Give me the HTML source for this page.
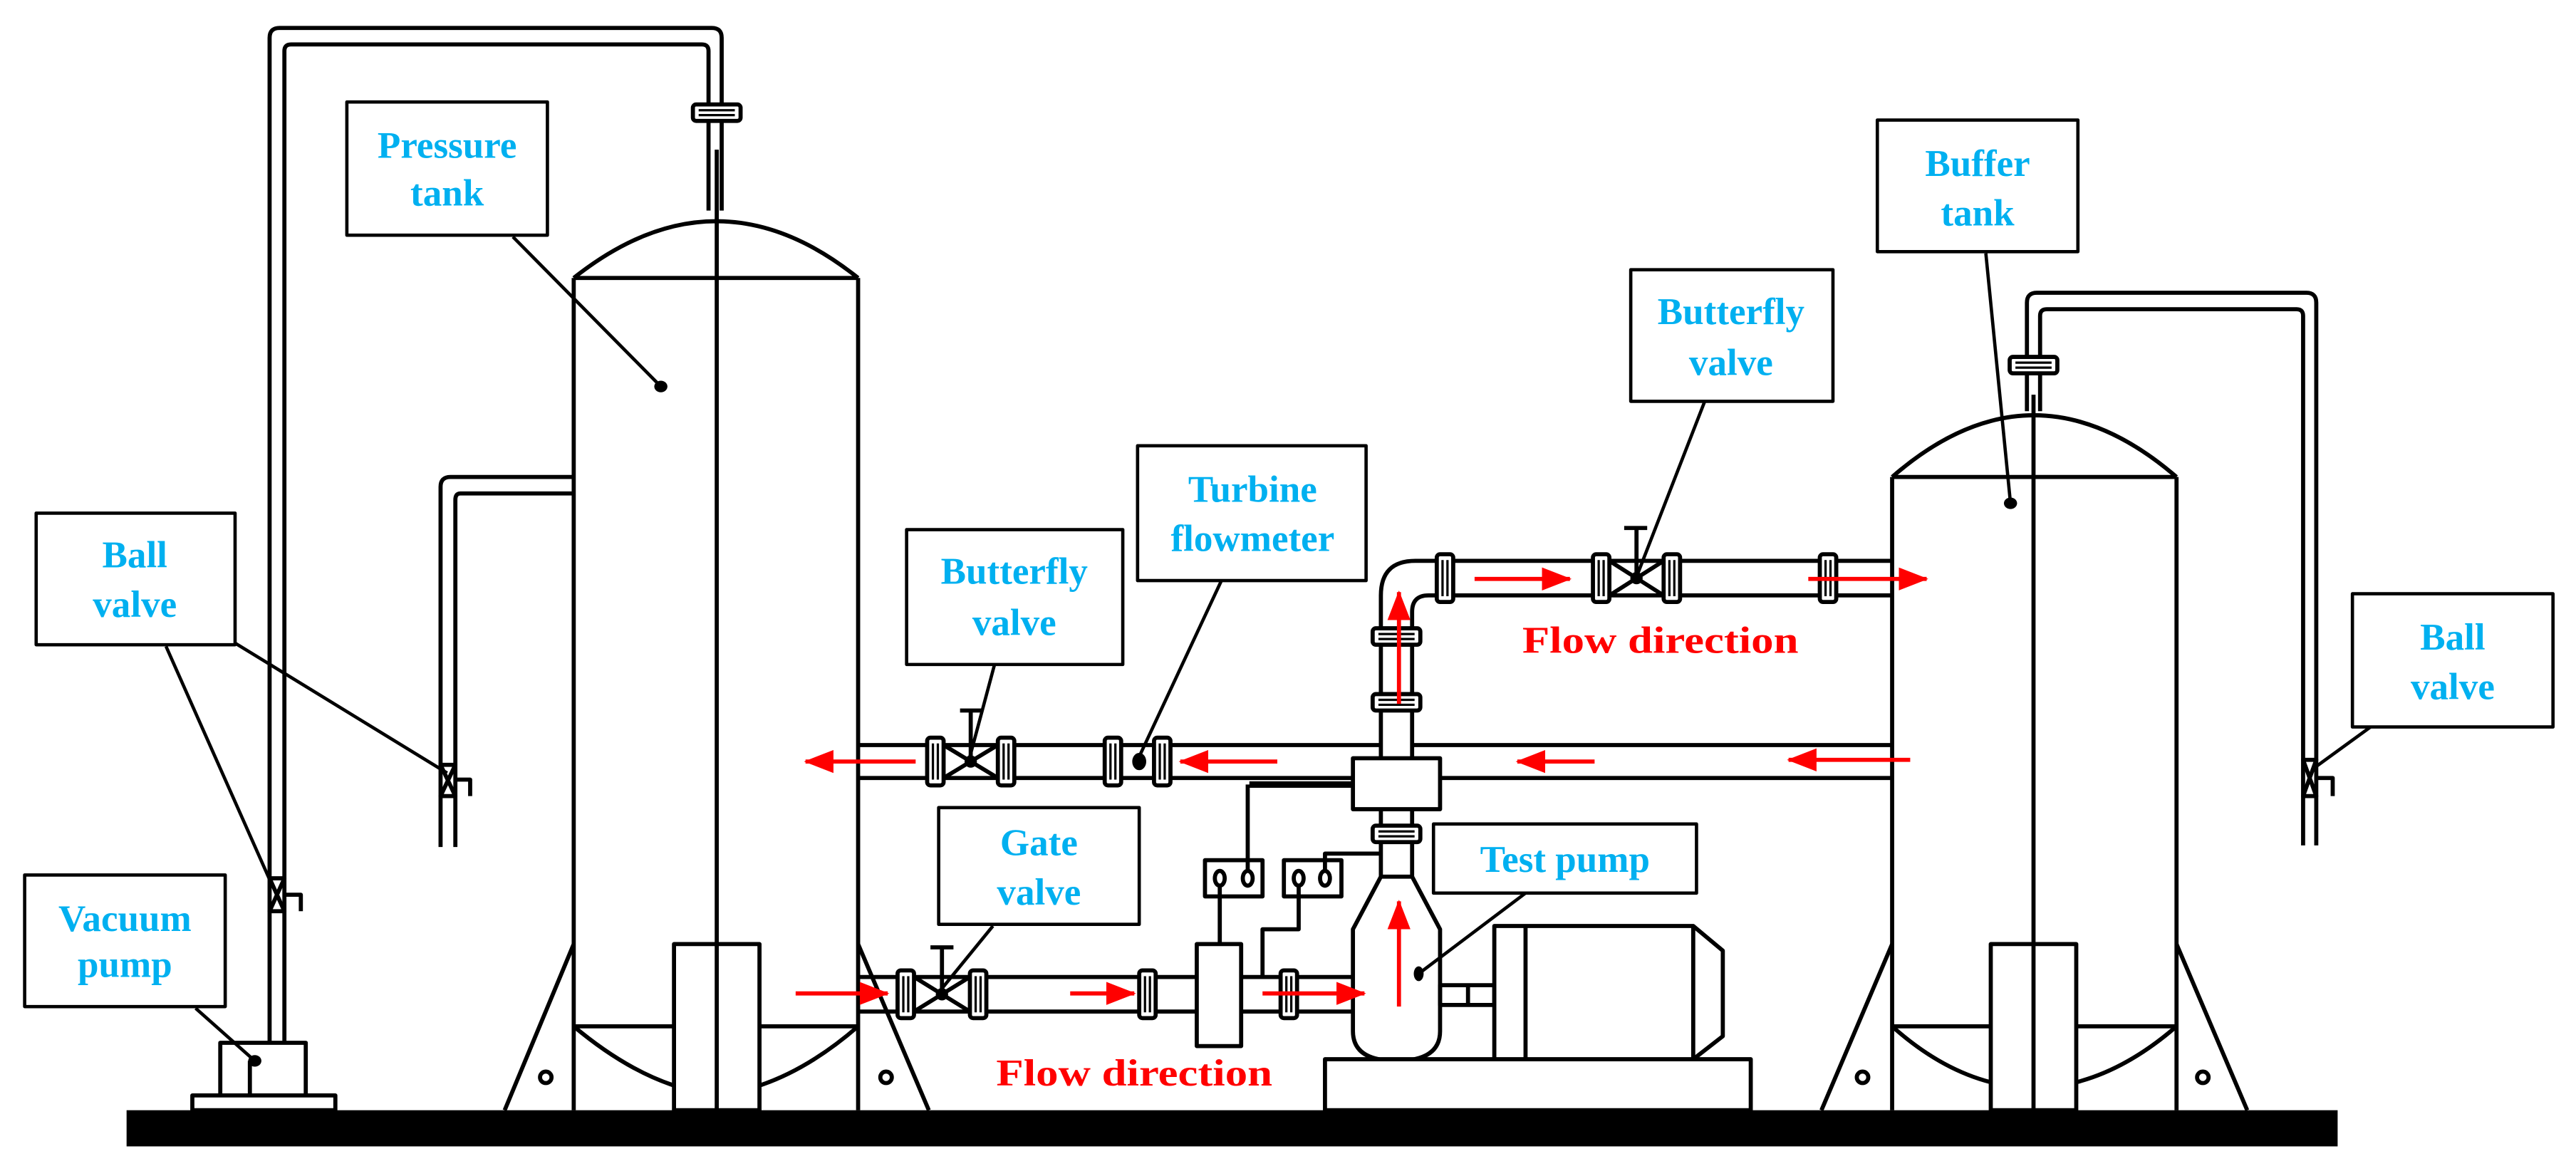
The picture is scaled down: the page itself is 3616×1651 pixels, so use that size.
<!DOCTYPE html>
<html><head><meta charset="utf-8"><style>
html,body{margin:0;padding:0;background:#fff;}
svg{display:block;}
.l{font-family:"Liberation Serif",serif;font-weight:bold;font-size:23px;fill:#00b0f0;text-anchor:middle;}
.r{font-family:"Liberation Serif",serif;font-weight:bold;font-size:23px;fill:#ff0000;}
</style></head><body>
<svg width="3616" height="1651" viewBox="0 0 1567 715" preserveAspectRatio="none" xmlns="http://www.w3.org/2000/svg">
<defs>
<g id="fh"><rect x="-5" y="-14.5" width="10" height="29" rx="2" fill="#fff" stroke="#000" stroke-width="2.5"/><line x1="-1.5" y1="-11" x2="-1.5" y2="11" stroke="#000" stroke-width="1.4"/><line x1="1.5" y1="-11" x2="1.5" y2="11" stroke="#000" stroke-width="1.4"/></g>
<g id="fv"><rect x="-14.5" y="-5" width="29" height="10" rx="2" fill="#fff" stroke="#000" stroke-width="2.5"/><line y1="-1.5" x1="-11" y2="-1.5" x2="11" stroke="#000" stroke-width="1.4"/><line y1="1.5" x1="-11" y2="1.5" x2="11" stroke="#000" stroke-width="1.4"/></g>
<marker id="ah" markerUnits="userSpaceOnUse" markerWidth="18" markerHeight="14" refX="17" refY="7" orient="auto"><path d="M0,0 L18,7 L0,14 Z" fill="#ff0000"/></marker>
</defs>
<g fill="none" stroke="#000" stroke-width="2.5" stroke-linejoin="round">
<!-- base -->
<rect x="77" y="675" width="1345" height="22" fill="#000" stroke="none"/>
<!-- Pressure tank -->
<path d="M349,169 Q436,100 522,169"/>
<line x1="349" y1="169" x2="522" y2="169"/>
<line x1="349" y1="169" x2="349" y2="675"/>
<line x1="522" y1="169" x2="522" y2="675"/>
<line x1="349" y1="624" x2="410" y2="624"/><line x1="462" y1="624" x2="522" y2="624"/>
<path d="M349,624 Q380,650 410,660"/><path d="M462,660 Q492,650 522,624"/>
<rect x="410" y="574" width="52" height="101"/>
<line x1="436" y1="91" x2="436" y2="675"/>
<path d="M349,574 L307,675"/><path d="M522,574 L565,675"/>
<circle cx="332" cy="655" r="3.5"/><circle cx="539" cy="655" r="3.5"/>
<!-- long pipe to vacuum pump -->
<path d="M164,634 L164,23 Q164,17 170,17 L433,17 Q439,17 439,23 L439,128"/>
<path d="M173,634 L173,31 Q173,27 177,27 L427,27 Q431,27 431,31 L431,128"/>
<use href="#fv" x="436" y="68.5" transform=""/>
<!-- vacuum pump -->
<rect x="134" y="634" width="52" height="32" fill="#fff"/>
<rect x="117" y="666" width="87" height="9" fill="#fff"/>
<line x1="152" y1="645" x2="152" y2="666"/>
<!-- vacuum ball valve -->
<path d="M164,534 L173,534 L164,554 L173,554 Z" fill="#fff"/>
<path d="M173,544 L183,544 L183,554"/>
<!-- side pipe -->
<path d="M349,290 L274,290 Q268,290 268,296 L268,515"/>
<path d="M349,300 L280,300 Q277,300 277,304 L277,515"/>
<path d="M268,465 L277,465 L268,484 L277,484 Z" fill="#fff"/>
<path d="M277,474 L286,474 L286,484"/>
<!-- Buffer tank -->
<path d="M1151,290 Q1237,215 1324,290"/>
<line x1="1151" y1="290" x2="1324" y2="290"/>
<line x1="1151" y1="290" x2="1151" y2="675"/>
<line x1="1324" y1="290" x2="1324" y2="675"/>
<line x1="1151" y1="624" x2="1211" y2="624"/><line x1="1263" y1="624" x2="1324" y2="624"/>
<path d="M1151,624 Q1180,650 1211,658"/><path d="M1263,658 Q1294,650 1324,624"/>
<rect x="1211" y="574" width="52" height="101"/>
<line x1="1237" y1="240" x2="1237" y2="675"/>
<path d="M1151,574 L1108,675"/><path d="M1324,574 L1367,675"/>
<circle cx="1133" cy="655" r="3.5"/><circle cx="1340" cy="655" r="3.5"/>
<path d="M1233,250 L1233,184 Q1233,178 1239,178 L1403,178 Q1409,178 1409,184 L1409,514"/>
<path d="M1241,250 L1241,192 Q1241,188 1245,188 L1397,188 Q1401,188 1401,192 L1401,514"/>
<use href="#fv" x="1237" y="222"/>
<path d="M1401,462 L1409,462 L1401,484 L1409,484 Z" fill="#fff"/>
<path d="M1409,473 L1419,473 L1419,484"/>
<!-- middle pipe -->
<line x1="522" y1="453" x2="840" y2="453"/><line x1="859" y1="453" x2="1151" y2="453"/>
<line x1="522" y1="473" x2="1151" y2="473"/>
<line x1="760" y1="477" x2="823" y2="477" stroke-width="4"/>
<!-- top pipe & elbow -->
<path d="M840,461 L840,362 Q840,341 861,341 L1151,341"/>
<path d="M859,461 L859,372 Q859,362 869,362 L1151,362"/>
<!-- lower pipe -->
<line x1="522" y1="594" x2="823" y2="594"/><line x1="522" y1="615" x2="823" y2="615"/>
<!-- connection box -->
<rect x="823" y="461" width="53" height="31" fill="#fff"/>
<line x1="840" y1="492" x2="840" y2="533"/><line x1="859" y1="492" x2="859" y2="533"/>
<!-- flanges -->
<use href="#fh" x="569" y="463"/><use href="#fh" x="612" y="463"/>
<use href="#fh" x="677" y="463"/><use href="#fh" x="707" y="463"/>
<use href="#fh" x="551" y="604.5"/><use href="#fh" x="595" y="604.5"/>
<use href="#fh" x="698" y="604.5"/><use href="#fh" x="784" y="604.5"/>
<use href="#fh" x="879" y="351.5"/><use href="#fh" x="974" y="351.5"/><use href="#fh" x="1017" y="351.5"/><use href="#fh" x="1112" y="351.5"/>
<use href="#fv" x="849.5" y="387"/><use href="#fv" x="849.5" y="427"/><use href="#fv" x="849.5" y="507"/>
<!-- valves -->
<path d="M574,453 L607,473 M574,473 L607,453"/><circle cx="590.5" cy="463" r="2.5" fill="#000"/>
<path d="M590.5,463 L590.5,432 M584,432 L597,432"/>
<path d="M556,594 L590,615 M556,615 L590,594"/><circle cx="573" cy="604.5" r="2.5" fill="#000"/>
<path d="M573,604.5 L573,576 M566,576 L580,576"/>
<path d="M979,341 L1012,362 M979,362 L1012,341"/><circle cx="995.5" cy="351.5" r="2.5" fill="#000"/>
<path d="M995.5,351.5 L995.5,321 M988,321 L1002,321"/>
<ellipse cx="693" cy="463" rx="3" ry="4" fill="#000"/>
<!-- flowmeter -->
<rect x="728" y="574" width="27" height="62" fill="#fff"/>
<!-- gauges -->
<rect x="733" y="523" width="35" height="22" fill="#fff"/><rect x="781" y="523" width="35" height="22" fill="#fff"/>
<ellipse cx="742" cy="534" rx="3" ry="4.5"/><ellipse cx="759" cy="534" rx="3" ry="4.5"/>
<ellipse cx="790" cy="534" rx="3" ry="4.5"/><ellipse cx="806" cy="534" rx="3" ry="4.5"/>
<path d="M759,529 L759,477"/>
<path d="M742,539 L742,574"/>
<path d="M790,539 L790,565 L768,565 L768,594"/>
<path d="M806,529 L806,519 L840,519"/>
<!-- pump -->
<path d="M840,533 L823,565 L823,627 Q823,645 849.5,645 Q876,645 876,627 L876,565 L859,533 Z" fill="#fff"/>
<rect x="876" y="599" width="33" height="12"/><line x1="893" y1="599" x2="893" y2="611"/>
<path d="M909,644 L909,563 L1030,563 L1048,578 L1048,630 L1030,644"/>
<line x1="928" y1="563" x2="928" y2="644"/><line x1="1030" y1="563" x2="1030" y2="644"/>
<rect x="806" y="644" width="259" height="31" fill="#fff"/>
<!-- label boxes -->
<g fill="#fff" stroke-width="2">
<rect x="211" y="62" width="122" height="81"/>
<rect x="22" y="312" width="121" height="80"/>
<rect x="15" y="532" width="122" height="80"/>
<rect x="1142" y="73" width="122" height="80"/>
<rect x="1431" y="361" width="122" height="81"/>
<rect x="992" y="164" width="123" height="80"/>
<rect x="551.5" y="322" width="131.5" height="82"/>
<rect x="692" y="271" width="139" height="82"/>
<rect x="571" y="491" width="122" height="71"/>
<rect x="872" y="501" width="160" height="42"/>
</g>
<!-- leaders -->
<g stroke-width="2">
<line x1="312" y1="144" x2="402" y2="235"/>
<line x1="101" y1="393" x2="165" y2="537"/>
<line x1="143" y1="391" x2="272" y2="470"/>
<line x1="119" y1="613" x2="155" y2="645"/>
<line x1="1208" y1="154" x2="1223" y2="306"/>
<line x1="1442" y1="442" x2="1409" y2="466"/>
<line x1="1037" y1="244" x2="995" y2="352"/>
<line x1="605" y1="404" x2="590" y2="460"/>
<line x1="743" y1="353" x2="693" y2="460"/>
<line x1="604" y1="563" x2="573" y2="601"/>
<line x1="928" y1="543" x2="863" y2="592"/>
</g>
</g>
<g fill="#000">
<ellipse cx="402" cy="235" rx="4" ry="3.5"/><ellipse cx="155" cy="645" rx="4" ry="3.5"/>
<ellipse cx="1223" cy="306" rx="4" ry="3.5"/><ellipse cx="863" cy="592" rx="3" ry="4.5"/>
</g>
<!-- red arrows -->
<g stroke="#ff0000" stroke-width="2.5" marker-end="url(#ah)">
<line x1="484" y1="604" x2="540" y2="604"/>
<line x1="651" y1="604" x2="690" y2="604"/>
<line x1="768" y1="604" x2="830" y2="604"/>
<line x1="557" y1="463" x2="490" y2="463"/>
<line x1="777" y1="463" x2="718" y2="463"/>
<line x1="970" y1="463" x2="923" y2="463"/>
<line x1="1162" y1="462" x2="1088" y2="462"/>
<line x1="897" y1="352" x2="955" y2="352"/>
<line x1="1100" y1="352" x2="1172" y2="352"/>
<line x1="851" y1="428" x2="851" y2="360"/>
<line x1="851" y1="612" x2="851" y2="548"/>
</g>
<!-- text -->
<text class="r" x="926" y="397" textLength="168" lengthAdjust="spacingAndGlyphs">Flow direction</text>
<text class="r" x="606" y="660" textLength="168" lengthAdjust="spacingAndGlyphs">Flow direction</text>
<text class="l" x="272" y="96">Pressure</text><text class="l" x="272" y="125">tank</text>
<text class="l" x="82" y="345">Ball</text><text class="l" x="82" y="375">valve</text>
<text class="l" x="76" y="566">Vacuum</text><text class="l" x="76" y="594">pump</text>
<text class="l" x="1203" y="107">Buffer</text><text class="l" x="1203" y="137">tank</text>
<text class="l" x="1492" y="395">Ball</text><text class="l" x="1492" y="425">valve</text>
<text class="l" x="1053" y="197">Butterfly</text><text class="l" x="1053" y="228">valve</text>
<text class="l" x="617" y="355">Butterfly</text><text class="l" x="617" y="386">valve</text>
<text class="l" x="762" y="305">Turbine</text><text class="l" x="762" y="335">flowmeter</text>
<text class="l" x="632" y="520">Gate</text><text class="l" x="632" y="550">valve</text>
<text class="l" x="952" y="530">Test pump</text>
</svg>
</body></html>
